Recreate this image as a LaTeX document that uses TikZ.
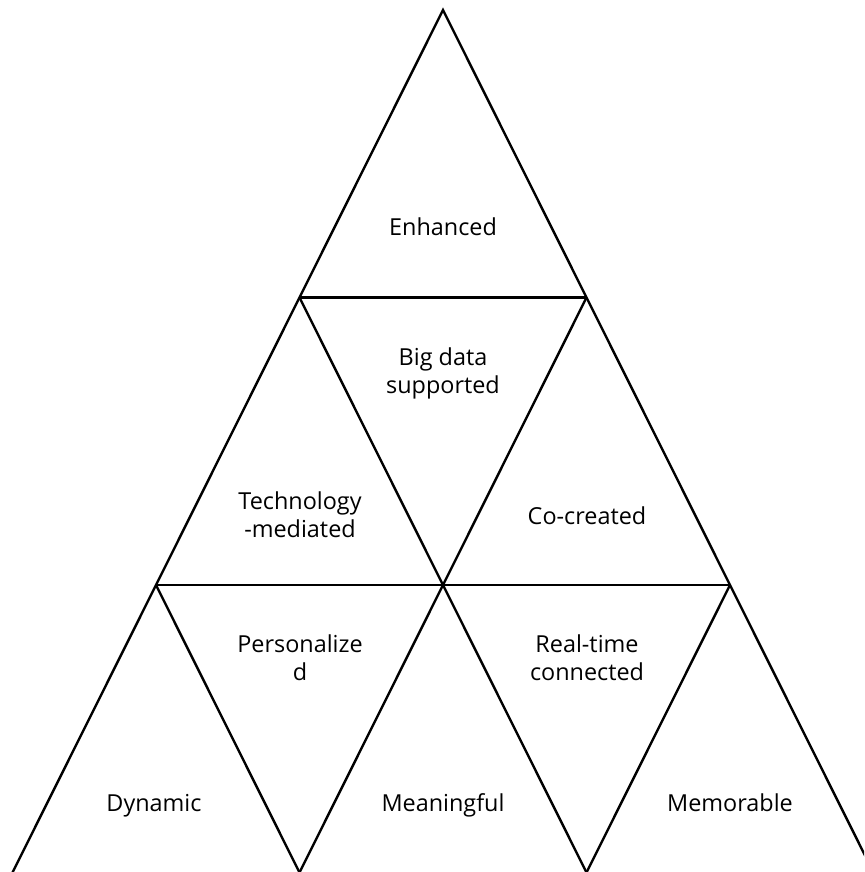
\documentclass[tikz,border=0pt]{standalone}
\usepackage{fontspec}
\setmainfont{Open Sans}
\begin{document}
\begin{tikzpicture}[x=1pt,y=-1pt,
  edge/.style={line width=2.4pt, line join=miter},
  lbl/.style={font=\fontsize{23.4}{28}\selectfont, align=center, anchor=base, inner sep=0pt}]
  \useasboundingbox (0,0) rectangle (864,872);
  \clip (0,0) rectangle (864,872);
  % corners of the nine small triangles
  \coordinate (A)  at (443,10);
  \coordinate (L1) at (299.5,297.5);
  \coordinate (R1) at (586.5,297.5);
  \coordinate (L2) at (156,585);
  \coordinate (M2) at (443,585);
  \coordinate (R2) at (730,585);
  \coordinate (L3) at (12.5,872.5);
  \coordinate (P3) at (299.5,872.5);
  \coordinate (Q3) at (586.5,872.5);
  \coordinate (R3) at (873.5,872.5);
  % outer sides
  \draw[edge] (L3) -- (A) -- (R3);
  % horizontal dividers
  \draw[edge] (L1) -- (R1);
  \draw[edge] (L2) -- (R2);
  % slanted dividers
  \draw[edge] (L1) -- (M2) -- (Q3);
  \draw[edge] (R1) -- (M2) -- (P3);
  \draw[edge] (L2) -- (P3);
  \draw[edge] (R2) -- (Q3);
  % labels (base anchor = baseline of the last line)
  \node[lbl] (enh) at (443,235) {Enhanced};
  \node[lbl] (big) at (443,393) {Big data\\supported};
  \node[lbl] (tec) at (300,537) {Technology\\-mediated};
  \node[lbl] (coc) at (587,524) {Co-created};
  \node[lbl] (per) at (300,680) {Personalize\\d};
  \node[lbl] (rea) at (587,680) {Real-time\\connected};
  \node[lbl] (dyn) at (154,811) {Dynamic};
  \node[lbl] (mea) at (443,811) {Meaningful};
  \node[lbl] (mem) at (730,811) {Memorable};
\end{tikzpicture}
\end{document}
